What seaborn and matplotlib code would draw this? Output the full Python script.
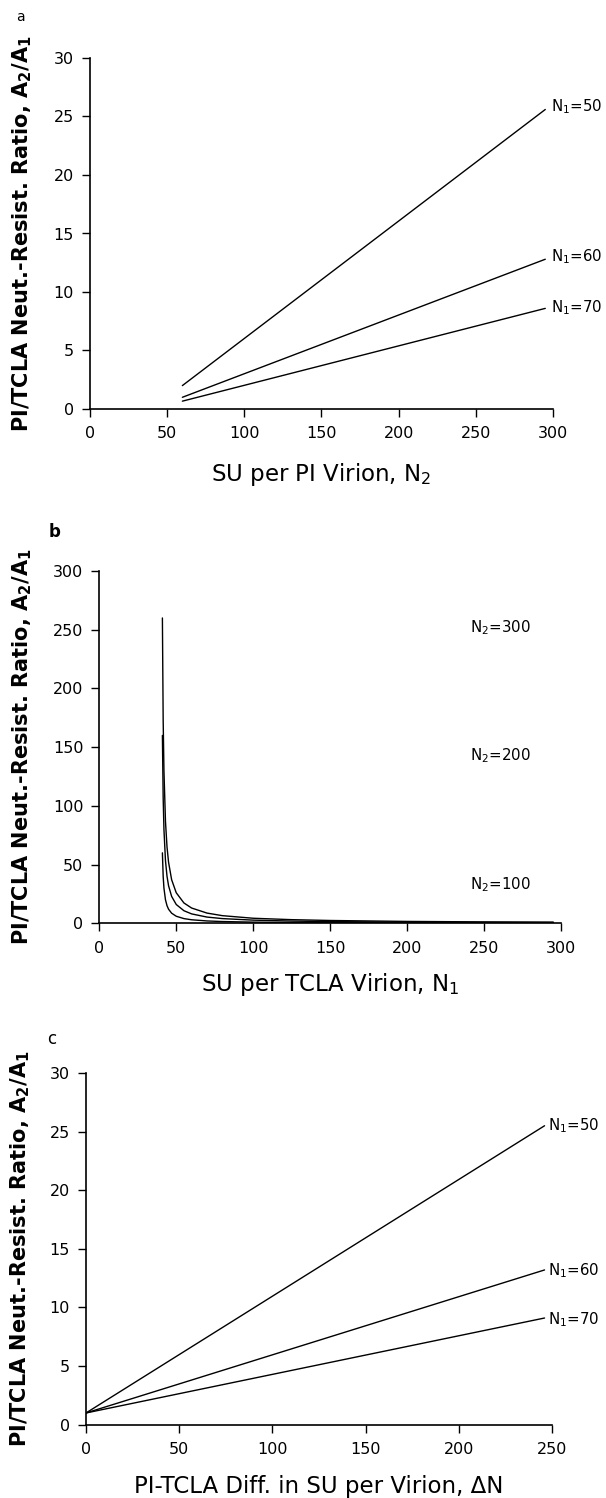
import numpy as np
import pandas as pd
import matplotlib
matplotlib.use("Agg")
import matplotlib.pyplot as plt
import seaborn as sns

# panel a: ratio vs SU per PI virion (N2), one line per N1
n2_a = [60, 295]
ratio_a_50 = [2.0, 25.6]
ratio_a_60 = [1.0, 12.8]
ratio_a_70 = [0.67, 8.6]
labels_a = ["N$_1$=50", "N$_1$=60", "N$_1$=70"]
label_y_a = [25.8, 13.0, 8.7]

# panel b: ratio vs SU per TCLA virion (N1), one curve per N2
n1_b = [41, 41.5, 42, 43, 44, 45, 47, 50, 55, 60, 70, 80, 100, 125, 150, 200, 250, 295]
ratio_b_300 = [260, 173, 130, 86.7, 65, 52, 37.1, 26, 17.3, 13, 8.7, 6.5, 4.3, 3.1, 2.4, 1.6, 1.2, 1.0]
ratio_b_200 = [160, 107, 80, 53.3, 40, 32, 22.9, 16, 10.7, 8, 5.3, 4, 2.7, 1.9, 1.45, 1.0, 0.76, 0.63]
ratio_b_100 = [60, 40, 30, 20, 15, 12, 8.6, 6, 4, 3, 2, 1.5, 1.0, 0.7, 0.55, 0.38, 0.29, 0.24]
labels_b = ["N$_2$=300", "N$_2$=200", "N$_2$=100"]
label_y_b = [252, 143, 33]

# panel c: ratio vs difference in SU per virion (dN), one line per N1
dn_c = [0, 246]
ratio_c_50 = [1.0, 25.5]
ratio_c_60 = [1.0, 13.2]
ratio_c_70 = [1.0, 9.1]
labels_c = ["N$_1$=50", "N$_1$=60", "N$_1$=70"]
label_y_c = [25.5, 13.1, 9.0]

sns.set_style("ticks")
plt.rcParams["font.family"] = ["DejaVu Sans"]
plt.rcParams["mathtext.fontset"] = "dejavusans"
plt.rcParams["mathtext.default"] = "regular"
for k in ["text.color", "axes.labelcolor", "xtick.color", "ytick.color", "axes.edgecolor"]:
    plt.rcParams[k] = "black"

ylab = "PI/TCLA Neut.-Resist. Ratio, A$_2$/A$_1$"
TICK_FS = 11.5
ANN_FS = 10.8
XLAB_FS = 16.5
YLAB_FS = 15

fig = plt.figure(figsize=(6.06, 14.98), dpi=100)
W, H = 606, 1498


def make_ax(left, right, top, bottom):
    return fig.add_axes([left / W, 1 - bottom / H, (right - left) / W, (bottom - top) / H])


def long_df(x, series):
    rows = []
    for name, ys in series.items():
        for xv, yv in zip(x, ys):
            rows.append({"x": xv, "y": yv, "series": name})
    return pd.DataFrame(rows)


def style(ax, xmax, ymax, step_x, step_y):
    ax.set_xlim(0, xmax)
    ax.set_ylim(0, ymax)
    ax.set_xticks(np.arange(0, xmax + 1, step_x))
    ax.set_yticks(np.arange(0, ymax + 1, step_y))
    sns.despine(ax=ax)
    for s in ["left", "bottom"]:
        ax.spines[s].set_linewidth(1.2)
        ax.spines[s].set_color("black")
    ax.tick_params(axis="both", direction="out", length=5.5, width=1.0,
                   labelsize=TICK_FS, colors="black")
    ax.tick_params(axis="x", pad=7)
    ax.tick_params(axis="y", pad=6)


def labels(ax, xlab, xly, yly):
    ax.set_xlabel(xlab, fontsize=XLAB_FS)
    ax.set_ylabel(ylab, fontsize=YLAB_FS, fontweight="bold")
    ax.xaxis.set_label_coords(0.5, xly)
    ax.xaxis.label.set_va("center")
    ax.yaxis.set_label_coords(yly, 0.5)
    ax.yaxis.label.set_va("center")


# ---- panel a
ax_a = make_ax(89.7, 553, 58, 409)
df_a = long_df(n2_a, {"50": ratio_a_50, "60": ratio_a_60, "70": ratio_a_70})
sns.lineplot(data=df_a, x="x", y="y", hue="series", palette=["black"] * 3,
             estimator=None, legend=False, linewidth=1.0, ax=ax_a)
style(ax_a, 300, 30, 50, 5)
for lab, yv in zip(labels_a, label_y_a):
    ax_a.text(298.5, yv, lab, ha="left", va="center", fontsize=ANN_FS, clip_on=False)
labels(ax_a, "SU per PI Virion, N$_2$", -0.188, -0.146)
fig.text(20 / W, 1 - 17 / H, "a", fontsize=10, ha="center", va="center")

# ---- panel b
ax_b = make_ax(99.3, 561, 571, 923.3)
df_b = long_df(n1_b, {"300": ratio_b_300, "200": ratio_b_200, "100": ratio_b_100})
sns.lineplot(data=df_b, x="x", y="y", hue="series", palette=["black"] * 3,
             estimator=None, legend=False, linewidth=1.0, ax=ax_b)
style(ax_b, 300, 300, 50, 50)
for lab, yv in zip(labels_b, label_y_b):
    ax_b.text(241, yv, lab, ha="left", va="center", fontsize=ANN_FS)
labels(ax_b, "SU per TCLA Virion, N$_1$", -0.175, -0.167)
fig.text(55 / W, 1 - 532 / H, "b", fontsize=12, fontweight="bold", ha="center", va="center")

# ---- panel c
ax_c = make_ax(86, 552, 1073, 1424.7)
df_c = long_df(dn_c, {"50": ratio_c_50, "60": ratio_c_60, "70": ratio_c_70})
sns.lineplot(data=df_c, x="x", y="y", hue="series", palette=["black"] * 3,
             estimator=None, legend=False, linewidth=1.0, ax=ax_c)
style(ax_c, 250, 30, 50, 5)
for lab, yv in zip(labels_c, label_y_c):
    ax_c.text(248, yv, lab, ha="left", va="center", fontsize=ANN_FS, clip_on=False)
labels(ax_c, "PI-TCLA Diff. in SU per Virion, ΔN", -0.177, -0.142)
fig.text(52 / W, 1 - 1039 / H, "c", fontsize=12, ha="center", va="center")

fig.savefig("out.png", dpi=100)
